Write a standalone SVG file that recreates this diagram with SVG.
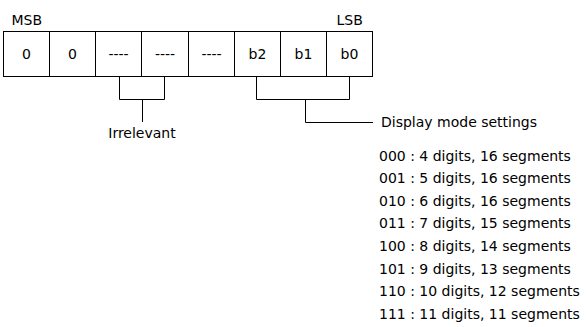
<svg xmlns="http://www.w3.org/2000/svg" width="586" height="327" viewBox="0 0 586 327">
<style>
text{font-family:"DejaVu Sans","Verdana",sans-serif;font-size:14px;fill:#000}
.c{text-anchor:middle}
.cell{fill:#fff;stroke:#000;stroke-width:1}
.ln{fill:none;stroke:#000;stroke-width:1}
</style>
<rect width="586" height="327" fill="#fff"/>
<g id="labels">
<text x="11.5" y="24.5">MSB</text>
<text x="336.5" y="24.5">LSB</text>
</g>
<g id="register">
<rect class="cell" x="3.5" y="31.5" width="369" height="45"/>
<path class="ln" d="M49.5 31.5V76.5M95.5 31.5V76.5M141.5 31.5V76.5M188.5 31.5V76.5M234.5 31.5V76.5M280.5 31.5V76.5M326.5 31.5V76.5"/>
<text class="c" x="26.5" y="58.5">0</text>
<text class="c" x="72.5" y="58.5">0</text>
<text class="c" x="118.5" y="58.5">----</text>
<text class="c" x="165" y="58.5">----</text>
<text class="c" x="211.5" y="58.5">----</text>
<text class="c" x="257.5" y="58.5">b2</text>
<text class="c" x="303.5" y="58.5">b1</text>
<text class="c" x="349.5" y="58.5">b0</text>
</g>
<g id="connectors">
<path class="ln" d="M119.5 76.5V99.5H164.5V76.5M142.5 99.5V122"/>
<path class="ln" d="M256.5 76.5V99.5H349.5V76.5M305.5 99.5V122.5H373"/>
</g>
<g id="irrelevant">
<text class="c" x="142" y="137.5">Irrelevant</text>
</g>
<g id="display-mode">
<text x="381" y="127">Display mode settings</text>
<text x="379" y="160.5">000 : 4 digits, 16 segments</text>
<text x="379" y="183.1">001 : 5 digits, 16 segments</text>
<text x="379" y="205.7">010 : 6 digits, 16 segments</text>
<text x="379" y="228.3">011 : 7 digits, 15 segments</text>
<text x="379" y="250.9">100 : 8 digits, 14 segments</text>
<text x="379" y="273.5">101 : 9 digits, 13 segments</text>
<text x="379" y="296.1">110 : 10 digits, 12 segments</text>
<text x="379" y="318.7">111 : 11 digits, 11 segments</text>
</g>
</svg>
